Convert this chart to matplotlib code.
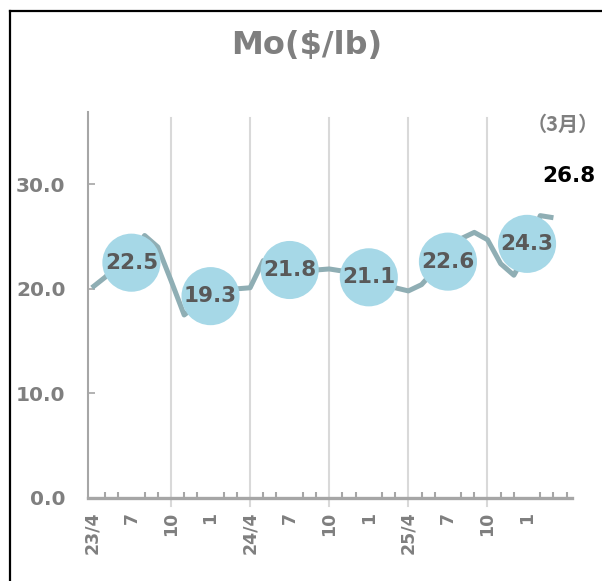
import numpy as np
import matplotlib
matplotlib.use('Agg')
import matplotlib.pyplot as plt
from matplotlib.lines import Line2D

plt.rcParams['font.family'] = ['DejaVu Sans', 'Noto Sans CJK JP']
plt.rcParams['font.weight'] = 'bold'

# 月次価格 (23/4 ～ 26/3)
months = ['23/4', '5', '6', '7', '8', '9', '10', '11', '12', '1', '2', '3',
          '24/4', '5', '6', '7', '8', '9', '10', '11', '12', '1', '2', '3',
          '25/4', '5', '6', '7', '8', '9', '10', '11', '12', '1', '2', '3']
price = [20.1, 21.1, 22.3, 23.0, 25.1, 24.0, 20.8, 17.5, 18.5, 19.0, 19.8, 20.0,
         20.1, 22.7, 22.3, 22.1, 21.8, 21.8, 21.9, 21.7, 21.3, 21.0, 20.6, 20.1,
         19.8, 20.4, 21.8, 23.4, 24.8, 25.4, 24.7, 22.4, 21.3, 23.6, 27.0, 26.8]

# 半期平均
avg_pos = [3, 9, 15, 21, 27, 33]
avg_val = [22.5, 19.3, 21.8, 21.1, 22.6, 24.3]

tick_pos = list(range(0, 36, 3))
tick_lab = [months[i] for i in tick_pos]
grid_pos = [6, 12, 18, 24, 30]

gray = '#7F7F7F'
axis_gray = '#A6A6A6'

fig = plt.figure(figsize=(6.02, 5.81), dpi=100)
ax = fig.add_axes([0.146, 0.143, 0.804, 0.664])

x = np.arange(len(price))
ax.plot(x, price, color='#8FAEB4', lw=3.6, zorder=2, solid_capstyle='butt')
ax.scatter(avg_pos, avg_val, s=1750, color='#A6D8E7', zorder=3, edgecolors='none')
for p, v in zip(avg_pos, avg_val):
    ax.text(p, v, f'{v:.1f}', ha='center', va='center', fontsize=15.5,
            fontweight='bold', color='#595959', zorder=4)

for g in grid_pos:
    ax.axvline(g, ymin=-0.022, ymax=0.985, color='#D9D9D9', lw=1.5, zorder=1, clip_on=False)

ax.set_xlim(-0.3, 36.4)
ax.set_ylim(0, 36.9)

ax.set_yticks([0, 10, 20, 30])
ax.set_yticklabels(['0.0', '10.0', '20.0', '30.0'])
ax.tick_params(axis='y', direction='in', length=5, width=1.2, color=axis_gray,
               labelsize=14.5, labelcolor=gray, pad=16)

ax.set_xticks(tick_pos)
ax.set_xticklabels(tick_lab, rotation=90)
ax.set_xticks(range(37), minor=True)
ax.tick_params(axis='x', which='major', length=0, labelsize=12.5, labelcolor=gray, pad=10)
ax.tick_params(axis='x', which='minor', direction='in', length=4, width=1.5, color=axis_gray)

for s in ['top', 'right']:
    ax.spines[s].set_visible(False)
ax.spines['left'].set_color(axis_gray)
ax.spines['left'].set_linewidth(1.5)
ax.spines['bottom'].set_color(axis_gray)
ax.spines['bottom'].set_linewidth(2.4)

fig.text(0.51, 0.922, 'Mo($/lb)', ha='center', va='center', fontsize=23,
         fontweight='bold', color=gray)
fig.text(0.935, 0.786, '（3月）', ha='center', va='center', fontsize=14.5,
         fontweight='bold', color=gray, family=['Noto Sans CJK JP', 'DejaVu Sans'])
fig.text(0.945, 0.697, f'{price[-1]:.1f}', ha='center', va='center', fontsize=15.5,
         fontweight='bold', color='black')

# 外枠
fig.add_artist(Line2D([0.0166, 0.0166], [0.0, 0.981], color='black', lw=1.6))
fig.add_artist(Line2D([0.0166, 1.0], [0.981, 0.981], color='black', lw=1.6))

plt.savefig('out.png', dpi=100)
